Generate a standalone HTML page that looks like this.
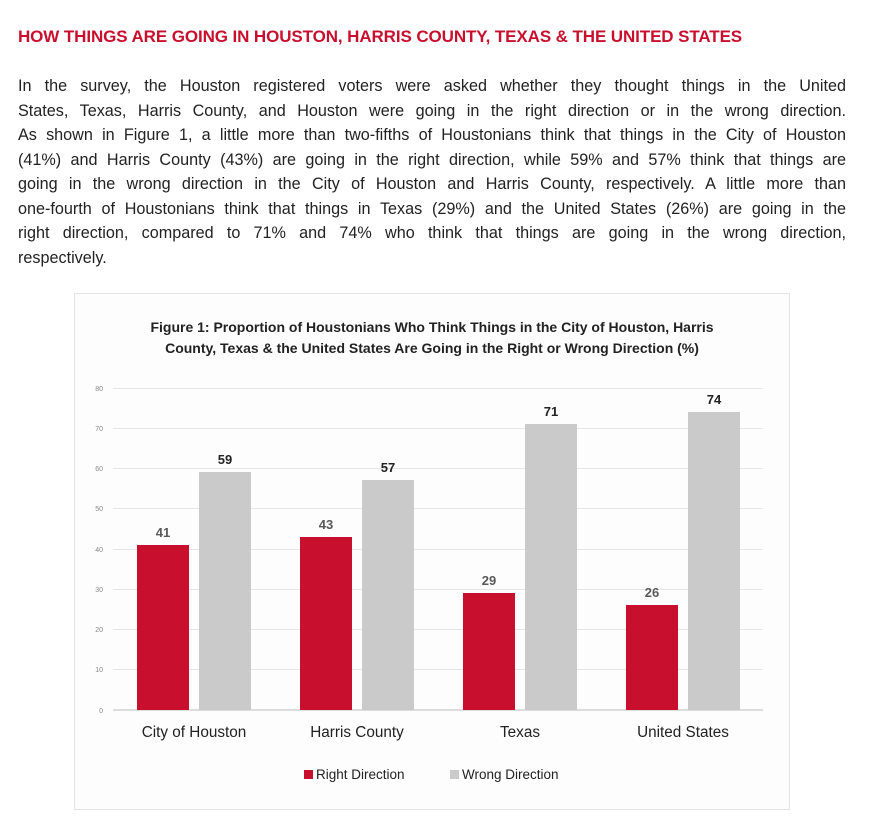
<!DOCTYPE html>
<html><head><meta charset="utf-8"><style>
body{margin:0;background:#fff;width:878px;height:816px;overflow:hidden;font-family:"Liberation Sans",Carlito,sans-serif;}
h1{position:absolute;left:18px;top:27px;margin:0;font-size:17px;color:#c8102e;font-weight:bold;letter-spacing:-0.1px;white-space:nowrap}
.p{position:absolute;left:18px;width:828px;font-size:16.2px;color:#222;}
.l{height:24.5px;line-height:24.5px;text-align:justify;text-align-last:justify;white-space:nowrap;}
</style></head><body>
<h1>HOW THINGS ARE GOING IN HOUSTON, HARRIS COUNTY, TEXAS &amp; THE UNITED STATES</h1>
<div class="p" style="top:74px">
<div class="l">In the survey, the Houston registered voters were asked whether they thought things in the United</div>
<div class="l">States, Texas, Harris County, and Houston were going in the right direction or in the wrong direction.</div>
<div class="l">As shown in Figure 1, a little more than two-fifths of Houstonians think that things in the City of Houston</div>
<div class="l">(41%) and Harris County (43%) are going in the right direction, while 59% and 57% think that things are</div>
<div class="l">going in the wrong direction in the City of Houston and Harris County, respectively. A little more than</div>
<div class="l">one-fourth of Houstonians think that things in Texas (29%) and the United States (26%) are going in the</div>
<div class="l">right direction, compared to 71% and 74% who think that things are going in the wrong direction,</div>
<div class="l" style="text-align-last:left">respectively.</div>
</div>
<svg style="position:absolute;left:0;top:0" width="878" height="816" font-family="Liberation Sans, sans-serif">
<rect x="74.5" y="293.5" width="715" height="516" fill="#fdfdfd" stroke="#e4e4e4"/>
<text x="432" y="332" text-anchor="middle" font-size="14" font-weight="bold" fill="#222">Figure 1: Proportion of Houstonians Who Think Things in the City of Houston, Harris</text>
<text x="432" y="353" text-anchor="middle" font-size="14" font-weight="bold" fill="#222">County, Texas &amp; the United States Are Going in the Right or Wrong Direction (%)</text>
<g stroke="#e6e6e6" stroke-width="1">
<line x1="113" x2="763" y1="388.5" y2="388.5"/><line x1="113" x2="763" y1="428.5" y2="428.5"/>
<line x1="113" x2="763" y1="468.5" y2="468.5"/><line x1="113" x2="763" y1="508.5" y2="508.5"/>
<line x1="113" x2="763" y1="549.5" y2="549.5"/><line x1="113" x2="763" y1="589.5" y2="589.5"/>
<line x1="113" x2="763" y1="629.5" y2="629.5"/><line x1="113" x2="763" y1="669.5" y2="669.5"/>
</g>
<line x1="113" x2="763" y1="710" y2="710" stroke="#ddd" stroke-width="2"/>
<g font-size="7" fill="#888" text-anchor="end">
<text x="103" y="391">80</text><text x="103" y="431">70</text><text x="103" y="471">60</text><text x="103" y="511">50</text>
<text x="103" y="552">40</text><text x="103" y="592">30</text><text x="103" y="632">20</text><text x="103" y="672">10</text><text x="103" y="713">0</text>
</g>
<g fill="#c8102e">
<rect x="137" y="545" width="52" height="165"/><rect x="300" y="537" width="52" height="173"/>
<rect x="463" y="593" width="52" height="117"/><rect x="626" y="605" width="52" height="105"/>
</g>
<g fill="#cacaca">
<rect x="199" y="472" width="52" height="238"/><rect x="362" y="480" width="52" height="230"/>
<rect x="525" y="424" width="52" height="286"/><rect x="688" y="412" width="52" height="298"/>
</g>
<g font-size="13" font-weight="bold" text-anchor="middle">
<g fill="#595959"><text x="163" y="537">41</text><text x="326" y="529">43</text><text x="489" y="585">29</text><text x="652" y="597">26</text></g>
<g fill="#222"><text x="225" y="464">59</text><text x="388" y="472">57</text><text x="551" y="416">71</text><text x="714" y="404">74</text></g>
</g>
<g font-size="15.3" fill="#222" text-anchor="middle">
<text x="194" y="737">City of Houston</text><text x="357" y="737">Harris County</text>
<text x="520" y="737">Texas</text><text x="683" y="737">United States</text>
</g>
<rect x="304" y="770" width="9" height="9" fill="#c8102e"/>
<text x="316" y="779" font-size="13.5" fill="#222">Right Direction</text>
<rect x="450" y="770" width="9" height="9" fill="#cacaca"/>
<text x="462" y="779" font-size="13.5" fill="#222">Wrong Direction</text>
</svg>
</body></html>
